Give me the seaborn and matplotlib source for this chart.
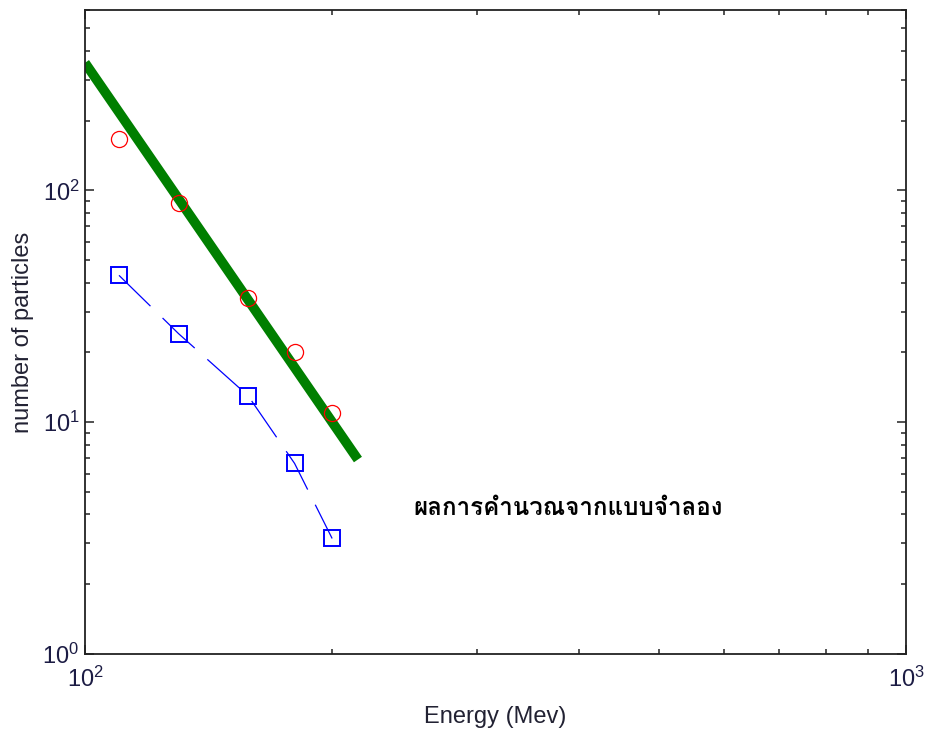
import numpy as np
import pandas as pd
import matplotlib
matplotlib.use("Agg")
import matplotlib.pyplot as plt
from matplotlib import font_manager
from matplotlib.ticker import LogLocator, NullFormatter
import seaborn as sns

# ---- data ----
energy = [110, 130, 158, 180, 200]
measured = [167, 88.5, 34.3, 20.0, 11.0]
simulated = [43.0, 24.1, 13.0, 6.64, 3.15]
fit_energy = [100, 215]
fit_counts = [355, 6.9]
annotation = "ผลการคำนวณจากแบบจำลอง"
x_label = "Energy (Mev)"
y_label = "number of particles"


def find_thai_font():
    try:
        from fontTools.ttLib import TTFont
    except Exception:
        return None
    prefer = ["tahoma", "loma", "garuda", "waree", "umpush", "noto sans thai",
              "notosansthai", "sawasdee", "kinnari", "norasi"]
    found = []
    for path in font_manager.findSystemFonts():
        try:
            f = TTFont(path, fontNumber=0, lazy=True)
            cmap = f.getBestCmap()
            if not (cmap and 0x0E1C in cmap and 0x0E33 in cmap):
                continue
            name = path.lower()
            score = 0
            if "bold" in name:
                score += 5
            if "italic" in name or "oblique" in name or "slant" in name:
                score -= 20
            for i, p in enumerate(prefer):
                if p in name:
                    score += 10 - i
                    break
            found.append((score, path))
        except Exception:
            continue
    if not found:
        return None
    found.sort(reverse=True)
    return found[0][1]


sns.set_theme(style="white")
plt.rcParams["font.family"] = ["Liberation Sans", "DejaVu Sans"]
plt.rcParams["mathtext.fontset"] = "custom"
plt.rcParams["mathtext.rm"] = "Liberation Sans"
plt.rcParams["mathtext.it"] = "Liberation Sans:italic"
plt.rcParams["mathtext.bf"] = "Liberation Sans:bold"
plt.rcParams["mathtext.default"] = "regular"
plt.rcParams["lines.scale_dashes"] = False

fig = plt.figure(figsize=(9.25, 7.3), dpi=100)
ax = fig.add_axes([85 / 925, 1 - 654 / 730, (906 - 85) / 925, (654 - 10) / 730])
ax.set_xscale("log")
ax.set_yscale("log")

fit_df = pd.DataFrame({"energy": fit_energy, "count": fit_counts})
sim_df = pd.DataFrame({"energy": energy, "count": simulated})
meas_df = pd.DataFrame({"energy": energy, "count": measured})

sns.lineplot(data=fit_df, x="energy", y="count", ax=ax, color="#007f00",
             linewidth=7.0, solid_capstyle="butt", zorder=2)
sns.lineplot(data=sim_df, x="energy", y="count", ax=ax, color="#0000ff",
             linewidth=0.9, linestyle=(0, (31.7, 12.2)), marker="s",
             markersize=11.2, markerfacecolor="none",
             markeredgecolor="#0000ff", markeredgewidth=1.4, zorder=3)
sns.lineplot(data=meas_df, x="energy", y="count", ax=ax, linestyle="none",
             marker="o", markersize=11.6, markerfacecolor="none",
             markeredgecolor="#ff0000", markeredgewidth=0.9, zorder=4)

ax.set_xlim(100, 1000)
ax.set_ylim(1, 600)
ax.xaxis.set_major_locator(LogLocator(base=10))
ax.yaxis.set_major_locator(LogLocator(base=10))
ax.xaxis.set_minor_locator(LogLocator(base=10, subs=np.arange(2, 10)))
ax.yaxis.set_minor_locator(LogLocator(base=10, subs=np.arange(2, 10)))
ax.xaxis.set_minor_formatter(NullFormatter())
ax.yaxis.set_minor_formatter(NullFormatter())

for s in ax.spines.values():
    s.set_color("#222222")
    s.set_linewidth(1.3)
ax.tick_params(which="both", direction="in", top=True, right=True,
               bottom=True, left=True, color="#222222", width=1.1)
ax.tick_params(which="major", length=6.5, labelsize=17, labelcolor="#1c1c44",
               pad=4)
ax.tick_params(axis="x", which="major", pad=9)
ax.tick_params(which="minor", length=3.8)
ax.grid(False)

ax.set_xlabel(x_label, fontsize=17, color="#222233", labelpad=10)
ax.set_ylabel(y_label, fontsize=17, color="#222233", labelpad=6)

thai_path = find_thai_font()
if thai_path:
    tprops = font_manager.FontProperties(fname=thai_path, size=17.4)
else:
    tprops = font_manager.FontProperties(family=["DejaVu Sans"], size=17.4,
                                         weight="bold")
ax.text(0.3995, 0.2267, annotation, transform=ax.transAxes, ha="left",
        va="center", fontproperties=tprops, color="black")

fig.savefig("out.png", dpi=100, facecolor="white")
